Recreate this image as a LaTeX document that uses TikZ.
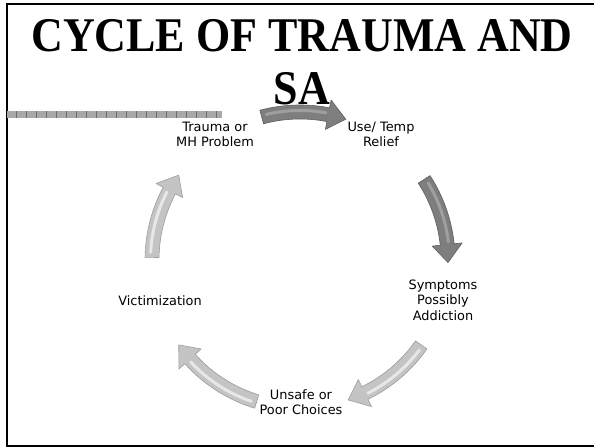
\documentclass[tikz,border=0pt]{standalone}
\usepackage{fontspec}
\setmainfont{Liberation Serif}
\newfontfamily\cyclefont{DejaVu Sans}
\definecolor{darkarrow}{HTML}{7E7E7E}
\definecolor{darkedge}{HTML}{5E5E5E}
\definecolor{darkshine}{HTML}{A8A8A8}
\definecolor{lightarrow}{HTML}{C4C4C4}
\definecolor{lightedge}{HTML}{9C9C9C}
\definecolor{lightshine}{HTML}{F0F0F0}
\definecolor{barfill}{HTML}{A9A9A9}
\definecolor{bartick}{HTML}{6E6E6E}
\def\rad{148}
% curved block arrow on the cycle: #1 start angle, #2 end angle, #3 body, #4 edge, #5 shine
\newcommand\cyclearrow[5]{%
  \fill[#3,draw=#4,line width=0.6pt,line join=round]
    (#1:\rad+7) arc[start angle=#1,end angle=#2+7,radius=\rad+7]
    -- (#2+7:\rad+15) -- (#2:\rad) -- (#2+7:\rad-15) -- (#2+7:\rad-7)
    arc[start angle=#2+7,end angle=#1,radius=\rad-7] -- cycle;
  \draw[#5,line width=3pt,line cap=round,opacity=0.8]
    (#1-2:\rad+1.5) arc[start angle=#1-2,end angle=#2+8,radius=\rad+1.5];
}
\newcommand\tallbold[1]{\scalebox{1}[1.1]{#1}}
\begin{document}
\begin{tikzpicture}[x=1pt,y=1pt,line join=round]
  \tikzset{cyclenode/.style={align=center,inner sep=0pt,
      font=\cyclefont\fontsize{12.9}{15.5}\selectfont},
    titletext/.style={anchor=base,inner sep=0pt,
      font=\fontsize{44}{50}\selectfont\bfseries}}
  \useasboundingbox (0,0) rectangle (594,447);
  % frame
  \draw[line width=2pt,line join=miter] (594,442.5) -- (7,442.5) -- (7,1.5) -- (594,1.5);
  % title
  \node[titletext] (title) at (302,395) {\tallbold{CYCLE OF TRAUMA AND}};
  \node[titletext] (titlesa) at (302,342) {\tallbold{SA}};
  % bar
  \fill[barfill] (7,329) rectangle (222,336);
  \foreach \x in {16,26,...,216}
    \draw[bartick,line width=0.8pt] (\x,329) -- (\x,336);
  % stages
  \coordinate (c) at (300,187);
  \node[cyclenode] (trauma) at (215,312.5) {Trauma or\\MH Problem};
  \node[cyclenode] (use) at (381,312.5) {Use/ Temp\\Relief};
  \node[cyclenode] (symptoms) at (443,147) {Symptoms\\Possibly\\Addiction};
  \node[cyclenode] (unsafe) at (301,45) {Unsafe or\\Poor Choices};
  \node[cyclenode] (victim) at (160,146) {Victimization};
  % arrows
  \begin{scope}[shift={(c)}]
    \cyclearrow{105}{72}{darkarrow}{darkedge}{darkshine}
    \cyclearrow{33}{-1}{darkarrow}{darkedge}{darkshine}
    \cyclearrow{-35}{-71}{lightarrow}{lightedge}{lightshine}
    \cyclearrow{-107}{-145}{lightarrow}{lightedge}{lightshine}
    \cyclearrow{179}{145}{lightarrow}{lightedge}{lightshine}
  \end{scope}
\end{tikzpicture}
\end{document}
